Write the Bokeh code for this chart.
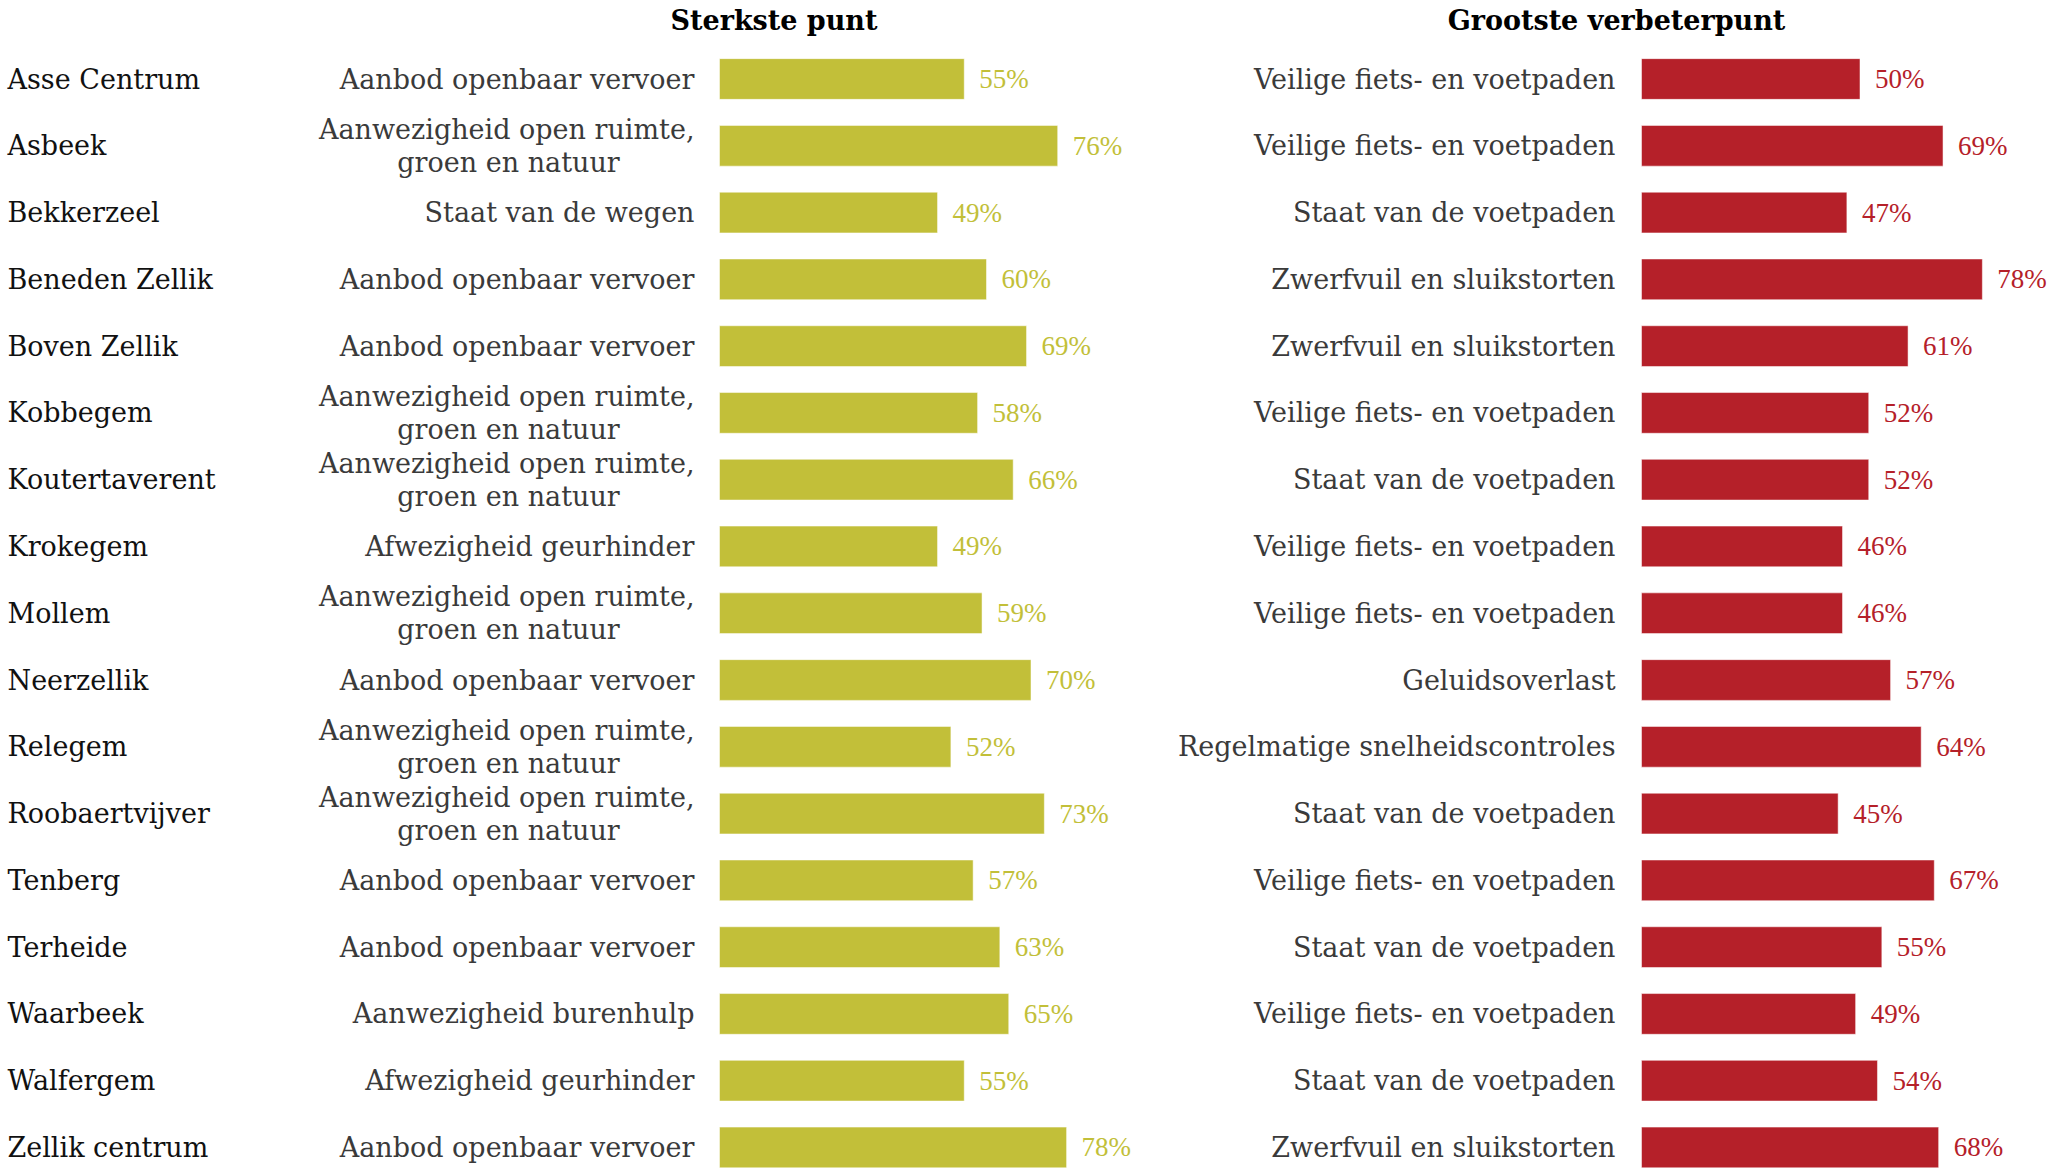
from bokeh.plotting import figure
from bokeh.layouts import row
from bokeh.models import ColumnDataSource, Range1d
from bokeh.embed import file_html
from bokeh.resources import INLINE
from bokeh.core.properties import value

# ---------------- data ----------------
towns = ["Asse Centrum", "Asbeek", "Bekkerzeel", "Beneden Zellik", "Boven Zellik",
         "Kobbegem", "Koutertaverent", "Krokegem", "Mollem", "Neerzellik", "Relegem",
         "Roobaertvijver", "Tenberg", "Terheide", "Waarbeek", "Walfergem", "Zellik centrum"]

strong_labels = ["Aanbod openbaar vervoer",
                 "Aanwezigheid open ruimte,\ngroen en natuur",
                 "Staat van de wegen",
                 "Aanbod openbaar vervoer",
                 "Aanbod openbaar vervoer",
                 "Aanwezigheid open ruimte,\ngroen en natuur",
                 "Aanwezigheid open ruimte,\ngroen en natuur",
                 "Afwezigheid geurhinder",
                 "Aanwezigheid open ruimte,\ngroen en natuur",
                 "Aanbod openbaar vervoer",
                 "Aanwezigheid open ruimte,\ngroen en natuur",
                 "Aanwezigheid open ruimte,\ngroen en natuur",
                 "Aanbod openbaar vervoer",
                 "Aanbod openbaar vervoer",
                 "Aanwezigheid burenhulp",
                 "Afwezigheid geurhinder",
                 "Aanbod openbaar vervoer"]
strong_values = [55, 76, 49, 60, 69, 58, 66, 49, 59, 70, 52, 73, 57, 63, 65, 55, 78]

improve_labels = ["Veilige fiets- en voetpaden",
                  "Veilige fiets- en voetpaden",
                  "Staat van de voetpaden",
                  "Zwerfvuil en sluikstorten",
                  "Zwerfvuil en sluikstorten",
                  "Veilige fiets- en voetpaden",
                  "Staat van de voetpaden",
                  "Veilige fiets- en voetpaden",
                  "Veilige fiets- en voetpaden",
                  "Geluidsoverlast",
                  "Regelmatige snelheidscontroles",
                  "Staat van de voetpaden",
                  "Veilige fiets- en voetpaden",
                  "Staat van de voetpaden",
                  "Veilige fiets- en voetpaden",
                  "Staat van de voetpaden",
                  "Zwerfvuil en sluikstorten"]
improve_values = [50, 69, 47, 78, 61, 52, 52, 46, 46, 57, 64, 45, 67, 55, 49, 54, 68]

titles = ["Sterkste punt", "Grootste verbeterpunt"]

# ---------------- style / layout ----------------
OLIVE = "#C2BF39"
RED = "#B52029"
LABEL_COLOR = "#3a3a3a"
TOWN_COLOR = "#111111"
FONT = value("DejaVu Serif")
VFONT = value("Liberation Serif")
FS = "27px"
VFS = "27px"

H = 1169
ROW_PX = 66.78
Y_TOP = -78.5 / ROW_PX
Y_BOT = Y_TOP + H / ROW_PX
LINE_OFF = 16.5 / ROW_PX


def panel(width, zero_px, ppu, labels, values, color, title, title_px,
          label_edge_px, gap_px, wrap_center_px, with_towns):
    start = -zero_px / ppu
    end = start + width / ppu
    p = figure(width=width, height=H, x_range=Range1d(start, end),
               y_range=Range1d(Y_BOT, Y_TOP), output_backend="svg",
               toolbar_location=None, x_axis_location=None, y_axis_location=None,
               min_border=0, min_border_left=0, min_border_right=0,
               min_border_top=0, min_border_bottom=0)
    p.grid.visible = False
    p.outline_line_color = None
    p.background_fill_color = "white"
    p.border_fill_color = "white"

    idx = list(range(len(values)))
    src = ColumnDataSource(dict(
        y=idx, v=values, vx=[v + gap_px / ppu for v in values],
        vt=[f"{v}%" for v in values]))
    p.hbar(y="y", left=0, right="v", height=0.61, source=src,
           fill_color=color, line_color="white", line_alpha=0.5, line_width=1)
    p.text(x="vx", y="y", text="vt", source=src, text_color=color,
           text_font=VFONT, text_font_size=VFS, text_align="left",
           text_baseline="middle")

    # category labels
    edge = (label_edge_px - zero_px) / ppu
    wrap_c = (wrap_center_px - zero_px) / ppu
    single = dict(x=[], y=[], t=[])
    first = dict(x=[], y=[], t=[])
    second = dict(x=[], y=[], t=[])
    for i, lab in enumerate(labels):
        parts = lab.split("\n")
        if len(parts) == 1:
            single["x"].append(edge); single["y"].append(i); single["t"].append(lab)
        else:
            first["x"].append(edge); first["y"].append(i - LINE_OFF); first["t"].append(parts[0])
            second["x"].append(wrap_c); second["y"].append(i + LINE_OFF); second["t"].append(parts[1])
    for d, al in ((single, "right"), (first, "right"), (second, "center")):
        if d["t"]:
            p.text(x="x", y="y", text="t", source=ColumnDataSource(d),
                   text_color=LABEL_COLOR, text_font=FONT, text_font_size=FS,
                   text_align=al, text_baseline="middle")

    if with_towns:
        p.text(x=[start + 7 / ppu] * len(towns), y=idx, text=towns,
               text_color=TOWN_COLOR, text_font=FONT, text_font_size=FS,
               text_align="left", text_baseline="middle")

    p.text(x=[(title_px - zero_px) / ppu], y=[Y_TOP + 19.6 / ROW_PX],
           text=[title], text_color="black", text_font=FONT, text_font_size=FS,
           text_font_style="bold", text_align="center", text_baseline="middle")
    return p


left = panel(1158, 719, 4.45, strong_labels, strong_values, OLIVE, titles[0],
             773.5, 694, 15, 508, True)
right = panel(891, 483, 4.37, improve_labels, improve_values, RED, titles[1],
              458, 457, 15, 0, False)

layout = row(left, right)
open("out.html", "w").write(file_html(layout, INLINE))
